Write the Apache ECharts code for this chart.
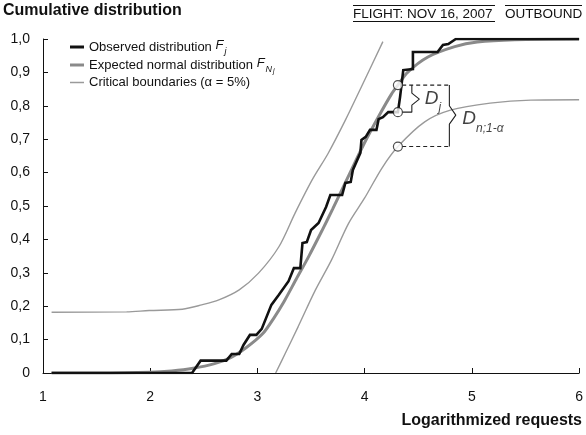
<!DOCTYPE html>
<html>
<head>
<meta charset="utf-8">
<script src="https://cdn.jsdelivr.net/npm/echarts@6/dist/echarts.min.js"></script>
<style>
  html, body { margin: 0; padding: 0; background: #fff; }
  #chart { width: 586px; height: 435px; }
</style>
</head>
<body>
<div id="chart"></div>
<script>
// Empirical CDF of the observed log-requests (polyline of the step curve)
const observed = [
  [1.08, 0], [2.39, 0], [2.47, 0.037], [2.71, 0.037], [2.76, 0.057], [2.83, 0.057],
  [2.87, 0.084], [2.93, 0.114], [2.99, 0.114], [3.04, 0.132], [3.13, 0.204], [3.20, 0.234],
  [3.29, 0.275], [3.34, 0.314], [3.40, 0.314], [3.42, 0.389], [3.46, 0.392], [3.50, 0.428],
  [3.53, 0.437], [3.57, 0.449], [3.64, 0.497], [3.68, 0.533], [3.79, 0.533], [3.82, 0.569],
  [3.87, 0.572], [3.89, 0.608], [3.96, 0.659], [3.97, 0.698], [4.01, 0.707], [4.05, 0.728],
  [4.11, 0.728], [4.13, 0.760], [4.17, 0.766], [4.22, 0.781], [4.31, 0.781], [4.33, 0.826],
  [4.36, 0.907], [4.45, 0.910], [4.45, 0.961], [4.68, 0.961], [4.73, 0.982], [4.78, 0.985],
  [4.85, 1.0], [6.0, 1.0]
];

// Fitted normal CDF
const expected = [
  [1.08, 0], [1.5, 0], [2.0, 0.002], [2.2, 0.006], [2.4, 0.014], [2.6, 0.028], [2.75, 0.046],
  [2.9, 0.077], [3.05, 0.118], [3.15, 0.163], [3.25, 0.215], [3.36, 0.28], [3.48, 0.35],
  [3.6, 0.425], [3.7, 0.49], [3.85, 0.59], [4.0, 0.69], [4.13, 0.768], [4.25, 0.835],
  [4.31, 0.862], [4.4, 0.9], [4.59, 0.946], [4.84, 0.977], [5.05, 0.991], [5.4, 0.998], [6.0, 1.0]
];

// Kolmogorov-Smirnov critical band (alpha = 5%)
const upperBound = [
  [1.08, 0.182], [1.78, 0.183], [1.99, 0.187], [2.30, 0.191], [2.48, 0.204], [2.64, 0.219],
  [2.83, 0.249], [3.01, 0.299], [3.20, 0.378], [3.35, 0.478], [3.51, 0.578], [3.66, 0.658],
  [3.82, 0.757], [3.97, 0.857], [4.17, 0.992]
];
const lowerBound = [
  [3.17, 0], [3.26, 0.059], [3.38, 0.139], [3.54, 0.248], [3.69, 0.338], [3.85, 0.448],
  [4.0, 0.524], [4.16, 0.613], [4.31, 0.678], [4.56, 0.752], [4.80, 0.787], [5.17, 0.808],
  [5.55, 0.817], [6.0, 0.818]
];

// Annotation: deviation D_j and critical distance D_n;1-a at x = 4.31
const markerPoints = [[4.31, 0.862], [4.31, 0.781], [4.31, 0.678]];
const dashTop = [[4.35, 0.862], [4.79, 0.862]];
const dashBottom = [[4.35, 0.678], [4.79, 0.678]];
const braceSmall = [[4.44, 0.862], [4.44, 0.838], [4.51, 0.820], [4.44, 0.802], [4.44, 0.781], [4.35, 0.781]];
const braceLarge = [[4.79, 0.862], [4.79, 0.80], [4.85, 0.772], [4.79, 0.745], [4.79, 0.678]];
const labelDj = [4.56, 0.817];
const labelDn = [4.91, 0.757];

const xTicks = { min: 1, max: 6, step: 1 };
const yTicks = { min: 0, max: 1, step: 0.1 };

const BASE_FONT = "'Liberation Sans', Arial, sans-serif";
const NAME_OBS = 'Observed distribution';
const NAME_EXP = 'Expected normal distribution';
const NAME_CRIT = 'Critical boundaries (α = 5%)';

const chart = echarts.init(document.getElementById('chart'), null, { renderer: 'canvas' });

const legendRich = {
  f: { fontStyle: 'italic', fontSize: 13, lineHeight: 16, verticalAlign: 'top', color: '#111', fontFamily: BASE_FONT },
  s: { fontStyle: 'italic', fontSize: 9, lineHeight: 9, padding: [8, 0, 0, 1], verticalAlign: 'top', color: '#111', fontFamily: BASE_FONT },
  n: { fontStyle: 'italic', fontSize: 9, lineHeight: 9, padding: [8, 0, 0, 1], verticalAlign: 'top', color: '#111', fontFamily: BASE_FONT },
  nj: { fontStyle: 'italic', fontSize: 7, lineHeight: 7, padding: [11, 0, 0, 1], verticalAlign: 'top', color: '#111', fontFamily: BASE_FONT },
  t: { fontSize: 13, lineHeight: 16, verticalAlign: 'top', color: '#111', fontFamily: BASE_FONT }
};

function legendFor(name, top, color, height, formatter) {
  return {
    left: 70, top: top, orient: 'vertical', selectedMode: false,
    itemWidth: 14, itemHeight: height, itemGap: 0, padding: 0,
    data: [{ name: name, icon: 'rect', itemStyle: { color: color, borderWidth: 0 } }],
    formatter: formatter,
    textStyle: { fontSize: 13, color: '#111', fontFamily: BASE_FONT, rich: legendRich }
  };
}

const annoRich = {
  d: { fontStyle: 'italic', fontSize: 19, lineHeight: 22, verticalAlign: 'top', color: '#111', fontFamily: BASE_FONT },
  s: { fontStyle: 'italic', fontSize: 12, lineHeight: 12, padding: [13, 0, 0, 0], verticalAlign: 'top', color: '#111', fontFamily: BASE_FONT }
};

function annoLine(data, dashed) {
  return {
    type: 'line', data: data, symbol: 'none', silent: true, z: 6,
    lineStyle: { color: '#222', width: 1.1, type: dashed ? [4, 3] : 'solid' }
  };
}

chart.setOption({
  animation: false,
  backgroundColor: '#fff',
  title: [
    {
      text: 'Cumulative distribution', left: 3, top: 3, padding: 0,
      textStyle: { fontSize: 16, fontWeight: 'bold', color: '#111', fontFamily: BASE_FONT }
    },
    {
      text: 'Logarithmized requests', right: 4, top: 413, padding: 0,
      textStyle: { fontSize: 16, fontWeight: 'bold', color: '#111', fontFamily: BASE_FONT }
    }
  ],
  legend: [
    legendFor(NAME_OBS, 39, '#111', 3, () => 'Observed distribution {f|F}{s|j}'),
    legendFor(NAME_EXP, 57, '#8a8a8a', 3, () => 'Expected normal distribution {f|F}{n|N}{nj|j}'),
    legendFor(NAME_CRIT, 76, '#9a9a9a', 1.5, () => 'Critical boundaries (α = 5%)')
  ],
  graphic: [
    { type: 'text', left: 353, top: 7, style: { text: 'FLIGHT: NOV 16, 2007', fontSize: 13.5, fill: '#111', fontFamily: BASE_FONT } },
    { type: 'line', shape: { x1: 353, y1: 5.5, x2: 495, y2: 5.5 }, style: { stroke: '#111', lineWidth: 1 } },
    { type: 'line', shape: { x1: 353, y1: 21.5, x2: 495, y2: 21.5 }, style: { stroke: '#111', lineWidth: 1 } },
    { type: 'text', left: 505, top: 7, style: { text: 'OUTBOUND', fontSize: 13.5, fill: '#111', fontFamily: BASE_FONT } },
    { type: 'line', shape: { x1: 505, y1: 5.5, x2: 582, y2: 5.5 }, style: { stroke: '#111', lineWidth: 1 } }
  ],
  grid: { left: 43, right: 4, top: 39, bottom: 62, containLabel: false },
  xAxis: {
    type: 'value', min: xTicks.min, max: xTicks.max, interval: xTicks.step,
    axisLine: { lineStyle: { color: '#111', width: 1 } },
    axisTick: { inside: true, length: 5, lineStyle: { color: '#111' } },
    splitLine: { show: false },
    axisLabel: { margin: 17, fontSize: 14, color: '#111', fontFamily: BASE_FONT }
  },
  yAxis: {
    type: 'value', min: yTicks.min, max: yTicks.max, interval: yTicks.step,
    axisLine: { show: true, lineStyle: { color: '#111', width: 1 } },
    axisTick: { show: true, inside: true, length: 5, lineStyle: { color: '#111' } },
    splitLine: { show: false },
    axisLabel: {
      margin: 13, fontSize: 14, color: '#111', fontFamily: BASE_FONT,
      formatter: v => (v === 0 ? '0' : v.toFixed(1).replace('.', ','))
    }
  },
  series: [
    {
      name: NAME_CRIT, type: 'line', data: upperBound, symbol: 'none', smooth: 0.3, z: 2,
      lineStyle: { color: '#9a9a9a', width: 1.4 }
    },
    {
      name: NAME_CRIT, type: 'line', data: lowerBound, symbol: 'none', smooth: 0.3, z: 2,
      lineStyle: { color: '#9a9a9a', width: 1.4 }
    },
    {
      name: NAME_EXP, type: 'line', data: expected, symbol: 'none', smooth: 0.3, z: 3,
      lineStyle: { color: '#8a8a8a', width: 3 }
    },
    {
      name: NAME_OBS, type: 'line', data: observed, symbol: 'none', z: 4,
      lineStyle: { color: '#111', width: 2.6, join: 'miter' }
    },
    annoLine(dashTop, true),
    annoLine(dashBottom, true),
    annoLine(braceSmall, false),
    annoLine(braceLarge, false),
    {
      type: 'scatter', data: markerPoints, symbol: 'circle', symbolSize: 9, z: 8, silent: true,
      itemStyle: { color: '#fff', borderColor: '#222', borderWidth: 1.2 }
    },
    {
      type: 'scatter', data: [labelDj], symbolSize: 0, z: 8, silent: true,
      label: { show: true, position: 'right', distance: 0, formatter: '{d|D}{s|j}', rich: annoRich }
    },
    {
      type: 'scatter', data: [labelDn], symbolSize: 0, z: 8, silent: true,
      label: { show: true, position: 'right', distance: 0, formatter: '{d|D}{s|n;1-α}', rich: annoRich }
    }
  ]
});
</script>
</body>
</html>
